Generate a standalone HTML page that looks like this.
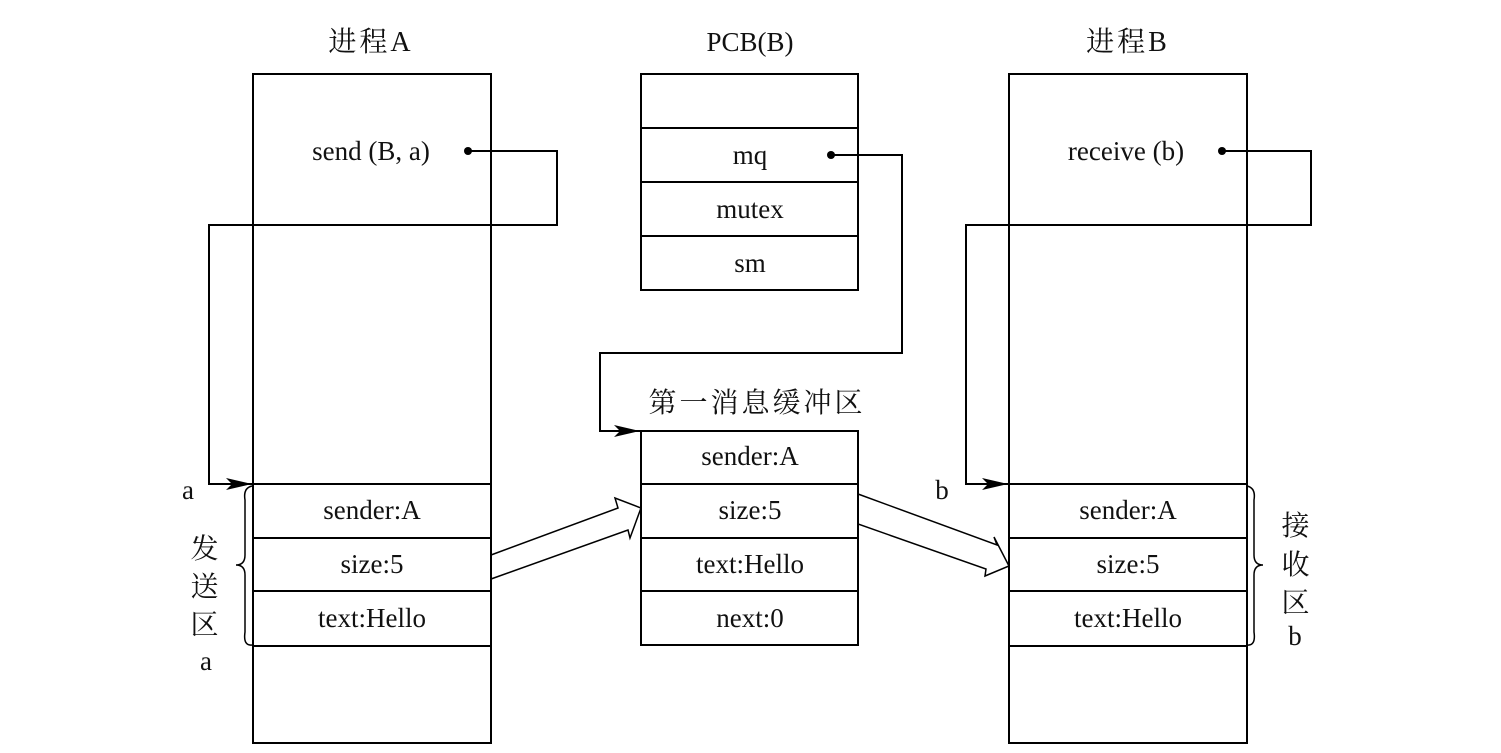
<!DOCTYPE html>
<html><head><meta charset="utf-8"><style>body{margin:0;background:#fff}svg{display:block}text{font-family:"Liberation Serif","Noto Serif CJK SC",serif;font-size:27px;fill:#111}.c{font-size:28px;letter-spacing:3px}</style></head>
<body>
<svg width="1501" height="753" viewBox="0 0 1501 753">
<defs><marker id="ar" markerWidth="26" markerHeight="12" refX="26" refY="6" orient="auto" markerUnits="userSpaceOnUse"><path d="M0,0 L26,6 L0,12 L6,6z" fill="#000"/></marker></defs>
<g fill="none" stroke="#000" stroke-width="2">
<rect x="253" y="74" width="238" height="669"/>
<line x1="253" y1="484" x2="491" y2="484"/><line x1="253" y1="538" x2="491" y2="538"/><line x1="253" y1="591" x2="491" y2="591"/><line x1="253" y1="646" x2="491" y2="646"/>
<rect x="641" y="74" width="217" height="216"/>
<line x1="641" y1="128" x2="858" y2="128"/><line x1="641" y1="182" x2="858" y2="182"/><line x1="641" y1="236" x2="858" y2="236"/>
<rect x="641" y="431" width="217" height="214"/>
<line x1="641" y1="484" x2="858" y2="484"/><line x1="641" y1="538" x2="858" y2="538"/><line x1="641" y1="591" x2="858" y2="591"/>
<rect x="1009" y="74" width="238" height="669"/>
<line x1="1009" y1="484" x2="1247" y2="484"/><line x1="1009" y1="538" x2="1247" y2="538"/><line x1="1009" y1="591" x2="1247" y2="591"/><line x1="1009" y1="646" x2="1247" y2="646"/>
<polyline points="468,151 557,151 557,225 209,225 209,484 252,484" marker-end="url(#ar)"/>
<polyline points="831,155 902,155 902,353 600,353 600,431 640,431" marker-end="url(#ar)"/>
<polyline points="1222,151 1311,151 1311,225 966,225 966,484 1008,484" marker-end="url(#ar)"/>
<polygon points="491,555 618,508 615,498 641,508 630,538 628,530 491,579" stroke-width="1.5"/>
<polygon points="858,494 997,545 994,537 1009,566 985,576 986,569 858,524" stroke-width="1.5"/>
<path d="M252,486 Q243,488 245,500 L245,555 Q245,565 236,565 Q245,565 245,575 L245,632 Q243,646 252,645" stroke-width="1.5"/>
<path d="M1247,486 Q1256,488 1254,500 L1254,555 Q1254,565 1263,565 Q1254,565 1254,575 L1254,632 Q1256,646 1247,645" stroke-width="1.5"/>
</g>
<circle cx="468" cy="151" r="4"/><circle cx="831" cy="155" r="4"/><circle cx="1222" cy="151" r="4"/>
<g text-anchor="middle">
<text x="371" y="51" class="c">进程A</text><text x="750" y="51">PCB(B)</text><text x="1128" y="51" class="c">进程B</text>
<text x="371" y="160">send (B, a)</text><text x="1126" y="160">receive (b)</text>
<text x="750" y="164">mq</text><text x="750" y="218">mutex</text><text x="750" y="272">sm</text>
<text x="757" y="412" class="c">第一消息缓冲区</text>
<text x="372" y="519">sender:A</text><text x="372" y="573">size:5</text><text x="372" y="627">text:Hello</text>
<text x="750" y="465">sender:A</text><text x="750" y="519">size:5</text><text x="750" y="573">text:Hello</text><text x="750" y="627">next:0</text>
<text x="1128" y="519">sender:A</text><text x="1128" y="573">size:5</text><text x="1128" y="627">text:Hello</text>
<text x="188" y="499">a</text><text x="206" y="558" class="c">发</text><text x="206" y="596" class="c">送</text><text x="206" y="634" class="c">区</text><text x="206" y="670">a</text>
<text x="942" y="499">b</text><text x="1297" y="535" class="c">接</text><text x="1297" y="574" class="c">收</text><text x="1297" y="612" class="c">区</text><text x="1295" y="645">b</text>
</g>
</svg>
</body></html>
